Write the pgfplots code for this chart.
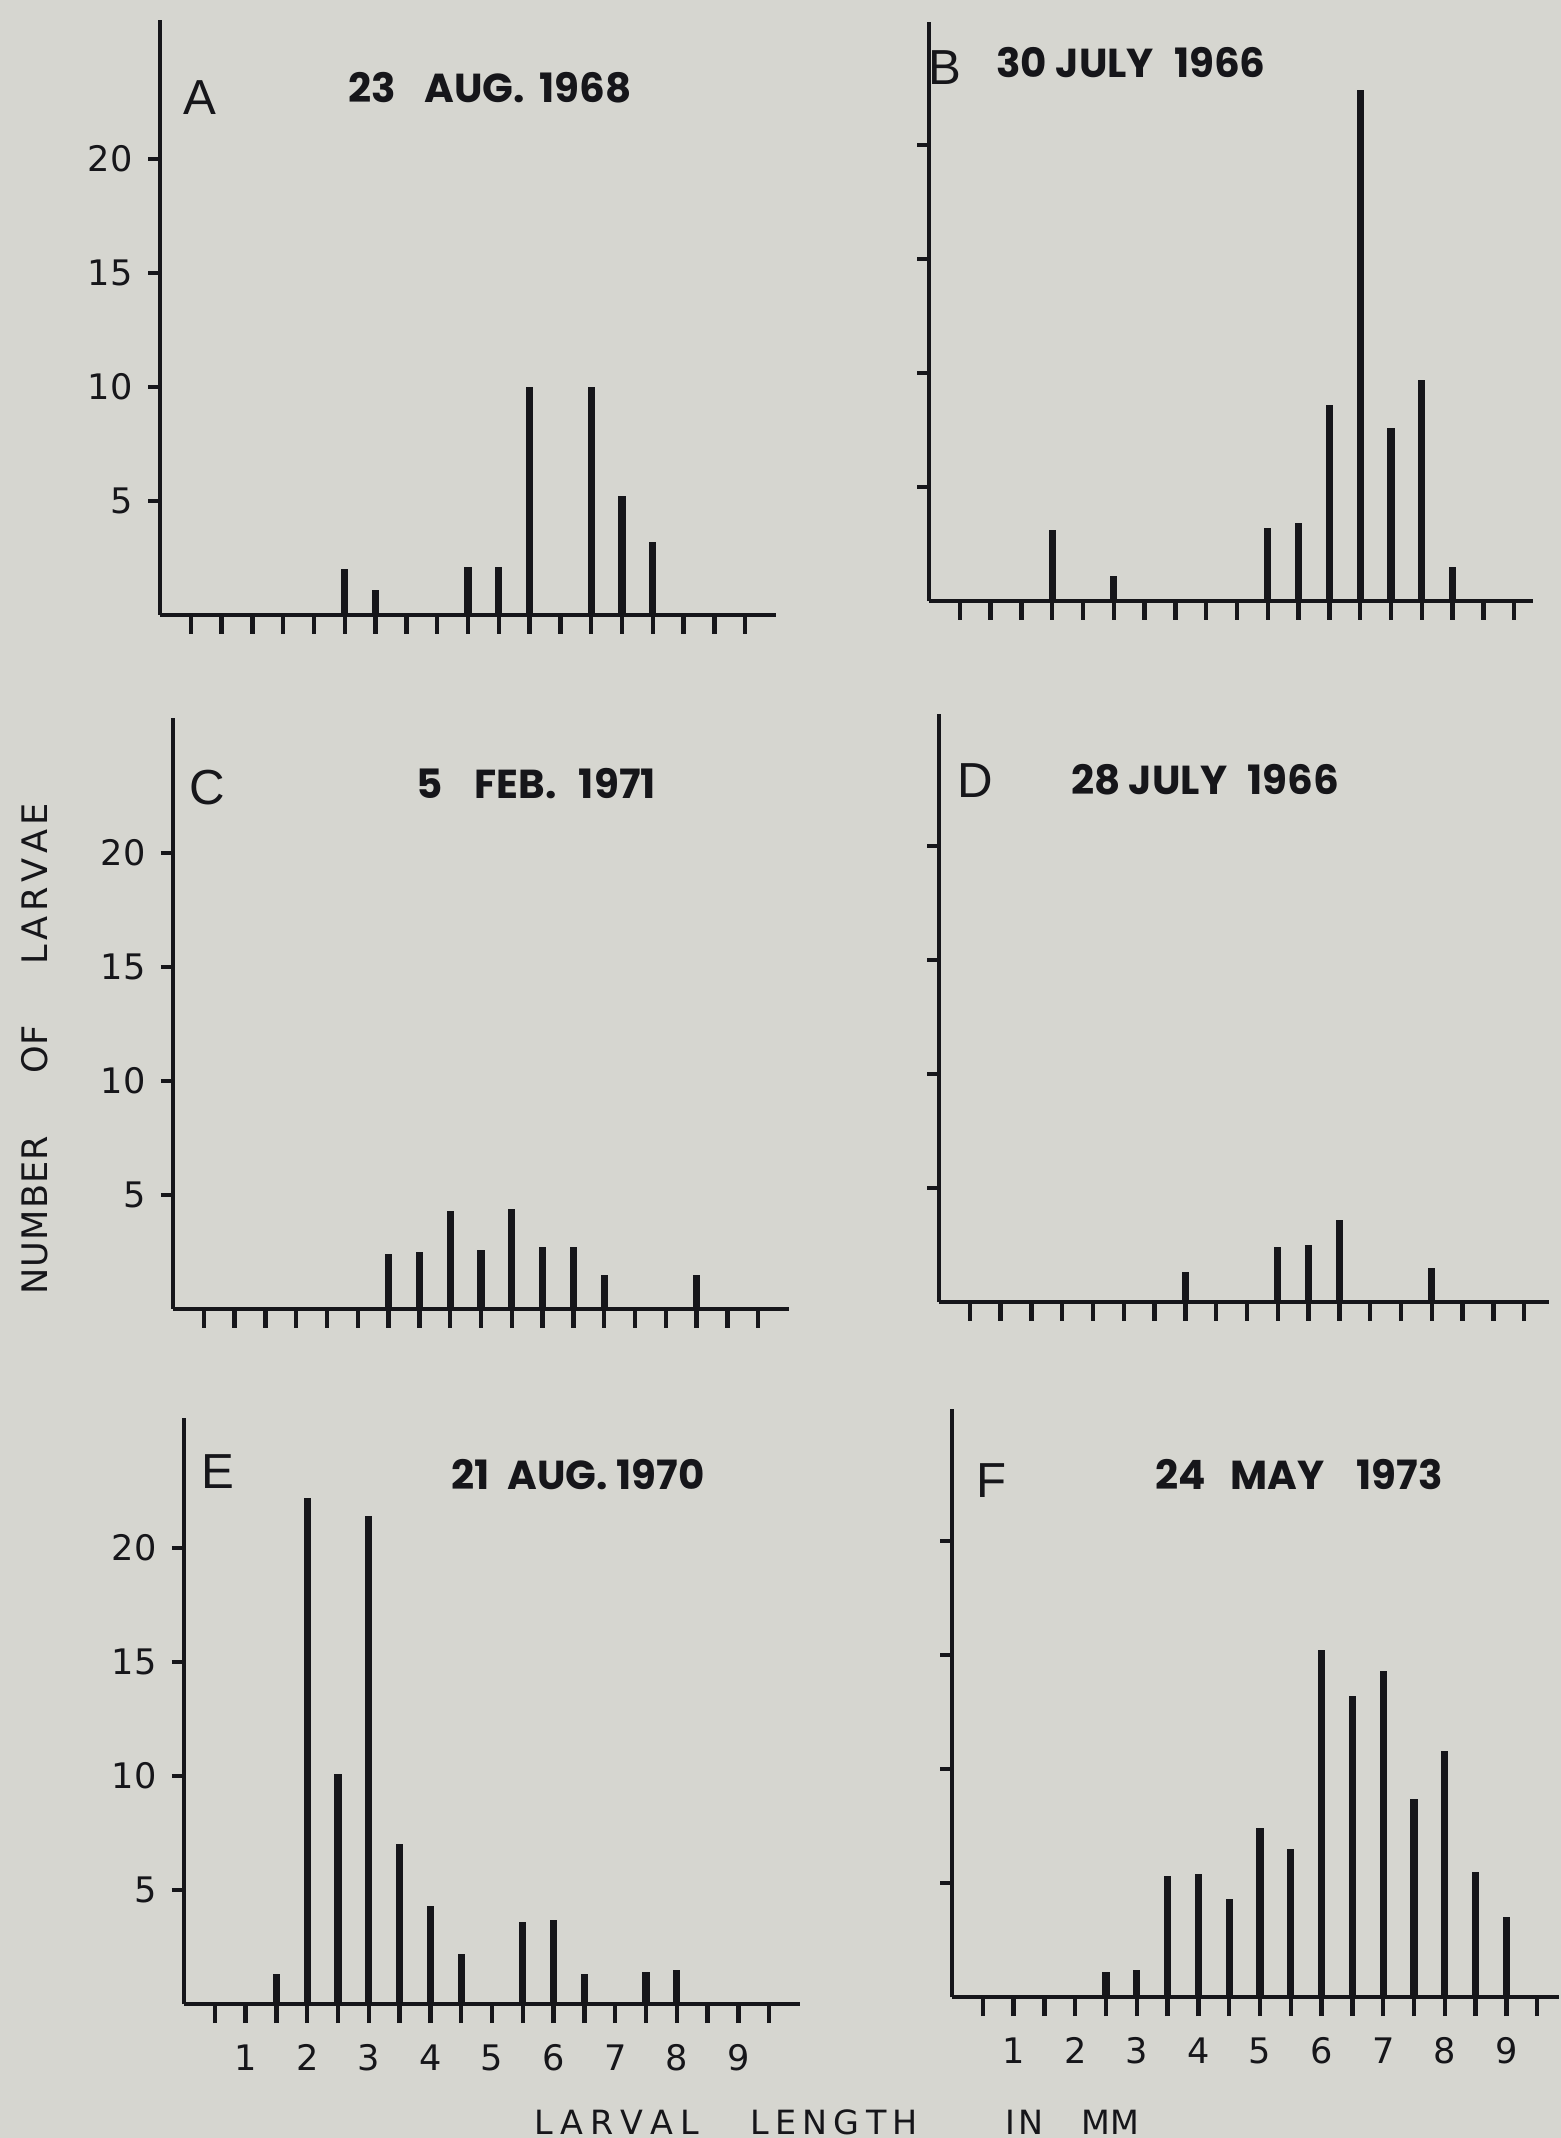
\documentclass[border=0pt]{standalone}
\usepackage{fontspec}
\usepackage{pgfplots}
\pgfplotsset{compat=1.18}
\setmainfont{DejaVu Sans}
\newfontfamily\titlefont{Poppins}
\newfontfamily\letterfont{Liberation Sans}
\definecolor{paper}{RGB}{214,214,208}
\definecolor{ink}{RGB}{22,22,26}

\pgfplotsset{
  panel/.style={
    x=6.16mm, y=2.28mm,
    xmin=0, ymin=0,
    axis lines*=left,
    axis line style={line width=1.3pt, ink},
    clip=false,
    xtick={0.5,1,1.5,2,2.5,3,3.5,4,4.5,5,5.5,6,6.5,7,7.5,8,8.5,9,9.5},
    xticklabels={},
    ytick={5,10,15,20},
    yticklabels={},
    tick align=outside,
    xtick style={/pgfplots/major tick length=1.9mm, line width=1.3pt, ink},
    ytick style={/pgfplots/major tick length=1.2mm, line width=1.3pt, ink},
    ticklabel style={font=\fontsize{10}{12}\selectfont, text=ink},
    xticklabel style={yshift=-1.3mm},
    /pgf/number format/assume math mode=true,
  },
  bars/.style={ycomb, line width=2pt, ink},
  xnums/.style={xticklabels={{},1,{},2,{},3,{},4,{},5,{},6,{},7,{},8,{},9,{}}},
  ynums/.style={yticklabels={5,10,15,20}},
}

\newcommand{\panelletter}[1]{{\letterfont\fontsize{14}{16}\selectfont #1}}
\newcommand{\paneltitle}[1]{{\titlefont\bfseries\fontsize{11.5}{13}\selectfont #1}}

\begin{document}
\begin{tikzpicture}
\fill[paper] (0,0) rectangle (156.1mm,213.8mm);
\useasboundingbox (0,0) rectangle (156.1mm,213.8mm);

% A: 23 Aug. 1968
\begin{axis}[panel, ynums, at={(16.0mm,152.3mm)}, anchor=south west, xmax=10, ymax=26.1]
\addplot[bars] coordinates {(3.0,2.0) (3.5,1.1) (5.0,2.1) (5.5,2.1) (6.0,10) (7.0,10) (7.5,5.2) (8.0,3.2)};
\end{axis}

% B: 30 July 1966
\begin{axis}[panel, at={(92.9mm,153.7mm)}, anchor=south west, xmax=9.8, ymax=25.4]
\addplot[bars] coordinates {(2.0,3.1) (3.0,1.1) (5.5,3.2) (6.0,3.4) (6.5,8.6) (7.0,22.4) (7.5,7.6) (8.0,9.7) (8.5,1.5)};
\end{axis}

% C: 5 Feb. 1971
\begin{axis}[panel, ynums, at={(17.3mm,82.9mm)}, anchor=south west, xmax=10, ymax=25.9]
\addplot[bars] coordinates {(3.5,2.4) (4.0,2.5) (4.5,4.3) (5.0,2.6) (5.5,4.4) (6.0,2.7) (6.5,2.7) (7.0,1.5) (8.5,1.5)};
\end{axis}

% D: 28 July 1966
\begin{axis}[panel, at={(93.9mm,83.6mm)}, anchor=south west, xmax=9.9, ymax=25.8]
\addplot[bars] coordinates {(4.0,1.3) (5.5,2.4) (6.0,2.5) (6.5,3.6) (8.0,1.5)};
\end{axis}

% E: 21 Aug. 1970
\begin{axis}[panel, ynums, xnums, at={(18.4mm,13.4mm)}, anchor=south west, xmax=10, ymax=25.7]
\addplot[bars] coordinates {(1.5,1.3) (2.0,22.2) (2.5,10.1) (3.0,21.4) (3.5,7.0) (4.0,4.3) (4.5,2.2) (5.5,3.6) (6.0,3.7) (6.5,1.3) (7.5,1.4) (8.0,1.5)};
\end{axis}

% F: 24 May 1973
\begin{axis}[panel, xnums, at={(95.2mm,14.1mm)}, anchor=south west, xmax=9.85, ymax=25.8]
\addplot[bars] coordinates {(2.5,1.1) (3.0,1.2) (3.5,5.3) (4.0,5.4) (4.5,4.3) (5.0,7.4) (5.5,6.5) (6.0,15.2) (6.5,13.2) (7.0,14.3) (7.5,8.7) (8.0,10.8) (8.5,5.5) (9.0,3.5)};
\end{axis}

% panel letters and dates
\node[ink] at (20.0mm,204.0mm) {\panelletter{A}};
\node[ink] at (49.0mm,205.0mm) {\paneltitle{23\hspace{0.7em}AUG.\hspace{0.35em}1968}};
\node[ink] at (94.5mm,207.0mm) {\panelletter{B}};
\node[ink] at (113.1mm,207.5mm) {\paneltitle{30 JULY\hspace{0.5em}1966}};
\node[ink] at (20.7mm,135.0mm) {\panelletter{C}};
\node[ink] at (53.6mm,135.4mm) {\paneltitle{5\hspace{0.8em}FEB.\hspace{0.55em}1971}};
\node[ink] at (97.5mm,135.7mm) {\panelletter{D}};
\node[ink] at (120.5mm,135.8mm) {\paneltitle{28 JULY\hspace{0.5em}1966}};
\node[ink] at (21.8mm,66.6mm) {\panelletter{E}};
\node[ink] at (57.8mm,66.3mm) {\paneltitle{21\hspace{0.45em}AUG. 1970}};
\node[ink] at (99.2mm,65.7mm) {\panelletter{F}};
\node[ink] at (129.9mm,66.3mm) {\paneltitle{24\hspace{0.6em}MAY\hspace{0.8em}1973}};

% shared axis titles
\begin{scope}[every node/.style={ink, inner sep=0pt, font=\fontsize{9.5}{11}\selectfont}]
\node[anchor=base west] at (53.4mm,0.33mm) {L\hspace{0.7mm}A\hspace{0.7mm}R\hspace{0.7mm}V\hspace{0.7mm}A\hspace{0.7mm}L};
\node[anchor=base west] at (75.0mm,0.33mm) {L\hspace{0.62mm}E\hspace{0.62mm}N\hspace{0.62mm}G\hspace{0.62mm}T\hspace{0.62mm}H};
\node[anchor=base west] at (100.5mm,0.33mm) {I\hspace{0.3mm}N};
\node[anchor=base west] at (108.1mm,0.33mm) {MM};
\end{scope}
\begin{scope}[every node/.style={ink, inner sep=0pt, rotate=90, anchor=base west, font=\fontsize{10}{12}\selectfont}]
\node at (4.7mm,84.3mm) {N\hspace{0.1mm}U\hspace{0.1mm}M\hspace{0.1mm}B\hspace{0.1mm}E\hspace{0.1mm}R};
\node at (4.7mm,106.4mm) {OF};
\node at (4.7mm,117.3mm) {L\hspace{0.46mm}A\hspace{0.46mm}R\hspace{0.46mm}V\hspace{0.46mm}A\hspace{0.46mm}E};
\end{scope}
\end{tikzpicture}
\end{document}
